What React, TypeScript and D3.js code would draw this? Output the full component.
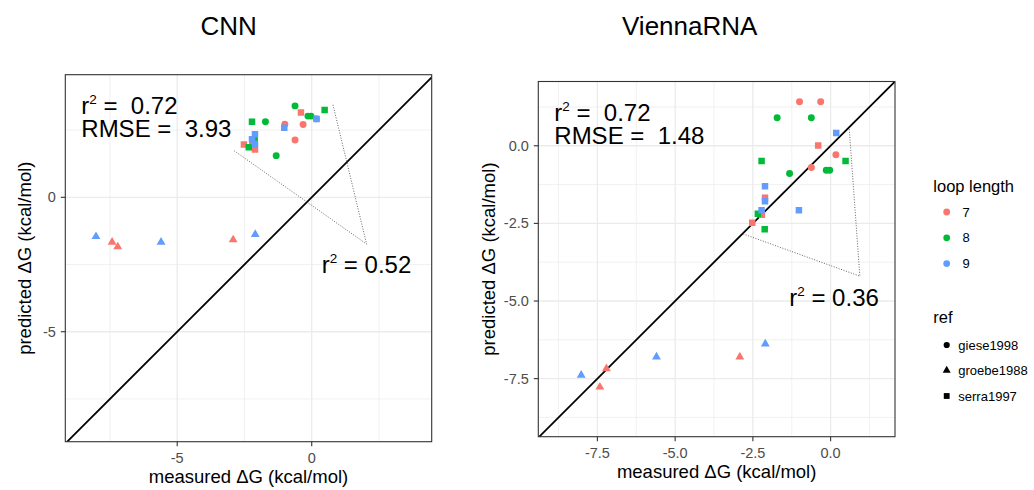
import React from 'react';
import * as d3 from 'd3';

// measured vs predicted free energy (kcal/mol), one entry per hairpin
const measured = [
  -1.0, -0.32, -0.62, 0.17, -7.42, -7.21, -2.92, -0.40, -2.52, -2.11, -2.21,
  -1.72, -0.62, -0.14, -0.03, -1.32, 0.48, -2.22, -2.34, -2.12,
  -8.02, -5.60, -2.10, 0.18, -2.11, -2.22, -2.11, -1.02,
];
const cnnPred = [
  2.72, 2.71, 2.13, 2.92, -1.67, -1.84, -1.58, 3.15, 1.96, 1.78, 2.05,
  2.81, 3.40, 3.02, 3.02, 1.55, 3.25, 2.81, 1.86, 2.16,
  -1.46, -1.67, -1.38, 2.91, 2.35, 2.16, 1.98, 2.59,
];
const viennaPred = [
  1.42, 1.42, -0.70, -0.29, -7.77, -7.18, -6.80, 0.01, -2.48, -1.67, -2.22,
  0.90, 0.90, -0.79, -0.79, -0.89, -0.49, -0.49, -2.19, -2.69,
  -7.39, -6.80, -6.38, 0.41, -1.30, -2.08, -1.79, -2.08,
];
const loopLength = [
  7, 7, 7, 7, 7, 7, 7, 7, 7, 7, 7,
  8, 8, 8, 8, 8, 8, 8, 8, 8,
  9, 9, 9, 9, 9, 9, 9, 9,
];
const refs = [
  'giese1998', 'giese1998', 'giese1998', 'giese1998', 'groebe1988', 'groebe1988', 'groebe1988',
  'serra1997', 'serra1997', 'serra1997', 'serra1997',
  'giese1998', 'giese1998', 'giese1998', 'giese1998', 'giese1998',
  'serra1997', 'serra1997', 'serra1997', 'serra1997',
  'groebe1988', 'groebe1988', 'groebe1988',
  'serra1997', 'serra1997', 'serra1997', 'serra1997', 'serra1997',
];

const loopLevels = [7, 8, 9];
const refLevels = ['giese1998', 'groebe1988', 'serra1997'];

// dotted guide lines: apex then the two far ends
const cnnGuide = [[-2.88, 1.73], [2.04, -1.74], [0.78, 3.48]];
const viennaGuide = [[-2.81, -2.84], [0.94, -4.2], [0.6, 0.53]];

const FONT = "'Liberation Sans', Arial, Helvetica, sans-serif";

const colour = d3.scaleOrdinal<number, string>().domain(loopLevels).range(['#F8766D', '#00BA38', '#619CFF']);
const shape = d3.scaleOrdinal<string, d3.SymbolType>().domain(refLevels)
  .range([d3.symbolCircle, d3.symbolTriangle, d3.symbolSquare]);
const symSize: Record<string, number> = { giese1998: 38, groebe1988: 34, serra1997: 42 };

const R2 = ({ x, y, value, gap }: any) => (
  <text x={x} y={y} fontSize={24} fill="#000" style={{ whiteSpace: 'pre' }}>
    r<tspan fontSize={13.5} dy={-10}>2</tspan><tspan dy={10}>{gap + '= ' + gap + value}</tspan>
  </text>
);

const Panel = (props: any) => {
  const { x0, x1, y0, y1, dom, yDom, major, minor, fmt, pred, guide, rmse, r2, r2at, title, titleX, yTitleX } = props;
  const x = d3.scaleLinear().domain(dom).range([x0, x1]);
  const y = d3.scaleLinear().domain(yDom).range([y1, y0]);
  const clipId = 'clip' + Math.round(x0);
  const line = d3.line<number[]>().x(d => x(d[0])).y(d => y(d[1]));

  return (
    <g>
      <defs>
        <clipPath id={clipId}>
          <rect x={x0} y={y0} width={x1 - x0} height={y1 - y0} />
        </clipPath>
      </defs>
      <rect x={x0} y={y0} width={x1 - x0} height={y1 - y0} fill="#fff" />
      {minor.map((v: number) => (
        <g key={'m' + v}>
          <line x1={x(v)} x2={x(v)} y1={y0} y2={y1} stroke="#EBEBEB" strokeWidth={0.7} />
          <line x1={x0} x2={x1} y1={y(v)} y2={y(v)} stroke="#EBEBEB" strokeWidth={0.7} />
        </g>
      ))}
      {major.map((v: number) => (
        <g key={'M' + v}>
          <line x1={x(v)} x2={x(v)} y1={y0} y2={y1} stroke="#EBEBEB" strokeWidth={1.3} />
          <line x1={x0} x2={x1} y1={y(v)} y2={y(v)} stroke="#EBEBEB" strokeWidth={1.3} />
        </g>
      ))}
      <g clipPath={`url(#${clipId})`}>
        <line x1={x(-20)} y1={y(-20)} x2={x(20)} y2={y(20)} stroke="#000" strokeWidth={1.8} />
        <path d={line(guide) || ''} fill="none" stroke="#555" strokeWidth={0.9} strokeDasharray="1,1.6" />
        {measured.map((m, i) => (
          <path key={i}
            d={d3.symbol(shape(refs[i]), symSize[refs[i]])() || ''}
            transform={`translate(${x(m)},${y(pred[i])})`}
            fill={colour(loopLength[i])} />
        ))}
      </g>
      <rect x={x0} y={y0} width={x1 - x0} height={y1 - y0} fill="none" stroke="#333" strokeWidth={1.1} />

      {major.map((v: number) => (
        <g key={'t' + v} fontFamily={FONT}>
          <line x1={x(v)} x2={x(v)} y1={y1} y2={y1 + 4.5} stroke="#333" strokeWidth={1.1} />
          <text x={x(v)} y={y1 + 21.5} textAnchor="middle" fontSize={14.5} fill="#4D4D4D">{fmt(v)}</text>
          <line x1={x0 - 4.5} x2={x0} y1={y(v)} y2={y(v)} stroke="#333" strokeWidth={1.1} />
          <text x={x0 - 9.5} y={y(v)} dy="0.35em" textAnchor="end" fontSize={14.5} fill="#4D4D4D">{fmt(v)}</text>
        </g>
      ))}

      <g fontFamily={FONT}>
        <R2 x={x0 + 16} y={y0 + 39.5} value={r2[0]} gap=" " />
        <text x={x0 + 16} y={y0 + 62} fontSize={24} style={{ whiteSpace: 'pre' }}>{'RMSE =  ' + rmse}</text>
        <text x={x(r2at[0])} y={y(r2at[1])} fontSize={24} style={{ whiteSpace: 'pre' }}>
          r<tspan fontSize={13.5} dy={-10}>2</tspan><tspan dy={10}>{' = ' + r2[1]}</tspan>
        </text>
        <text x={titleX} y={34.5} textAnchor="middle" fontSize={26}>{title}</text>
        <text x={(x0 + x1) / 2} y={y1 + 41.6} textAnchor="middle" fontSize={18.5}>measured ΔG (kcal/mol)</text>
        <text transform={`translate(${yTitleX},${(y0 + y1) / 2}) rotate(-90)`} dy="0.35em" textAnchor="middle" fontSize={18.5}>
          predicted ΔG (kcal/mol)
        </text>
      </g>
    </g>
  );
};

const Legend = () => {
  const keyX = 946.7;
  return (
    <g fontFamily={FONT}>
      <text x={933.3} y={192} fontSize={16.5}>loop length</text>
      {loopLevels.map((l, i) => (
        <g key={l}>
          <path d={d3.symbol(d3.symbolCircle, 36)() || ''} transform={`translate(${keyX},${212 + i * 25.8})`} fill={colour(l)} />
          <text x={962.5} y={212 + i * 25.8} dy="0.36em" fontSize={13}>{l}</text>
        </g>
      ))}
      <text x={933.3} y={323} fontSize={16.5}>ref</text>
      {refLevels.map((r, i) => (
        <g key={r}>
          <path d={d3.symbol(shape(r), r === 'serra1997' ? 34 : r === 'groebe1988' ? 28 : 30)() || ''}
            transform={`translate(${keyX},${345 + i * 25.5})`} fill="#000" />
          <text x={958.3} y={345 + i * 25.5} dy="0.36em" fontSize={13}>{r}</text>
        </g>
      ))}
    </g>
  );
};

export default function App() {
  return (
    <svg width={1034} height={490} style={{ position: 'absolute', left: 0, top: 0, background: '#fff' }}>
      <Panel
        x0={65.3} x1={431.7} y0={74.7} y1={441.7}
        dom={[-9.16, 4.46]} yDom={[-9.09, 4.56]}
        major={[-5, 0]} minor={[-7.5, -2.5, 2.5]}
        fmt={(v: number) => d3.format('d')(v).replace('−', '-')}
        pred={cnnPred} guide={cnnGuide}
        rmse="3.93" r2={['0.72', '0.52']} r2at={[0.37, -2.83]}
        title="CNN" titleX={228.7} yTitleX={25}
      />
      <Panel
        x0={538.3} x1={895} y0={81.5} y1={436.7}
        dom={[-9.4, 2.07]} yDom={[-9.37, 2.07]}
        major={[-7.5, -5, -2.5, 0]} minor={[-8.75, -6.25, -3.75, -1.25, 1.25]}
        fmt={(v: number) => d3.format('.1f')(v).replace('−', '-')}
        pred={viennaPred} guide={viennaGuide}
        rmse="1.48" r2={['0.72', '0.36']} r2at={[-1.33, -5.16]}
        title="ViennaRNA" titleX={689.7} yTitleX={489}
      />
      <Legend />
    </svg>
  );
}
